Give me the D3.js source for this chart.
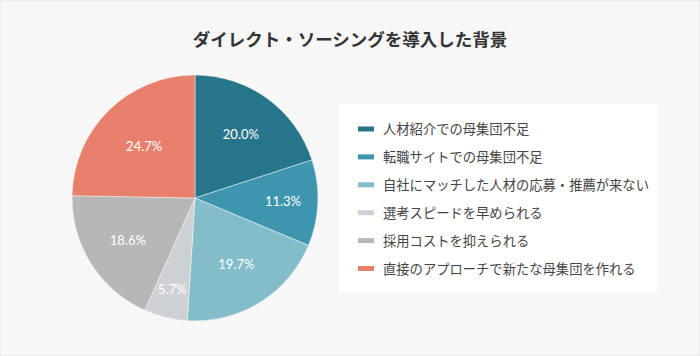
<!DOCTYPE html>
<html><head><meta charset="utf-8">
<script src="https://cdn.jsdelivr.net/npm/d3@7"></script>
<style>
html,body{margin:0;padding:0;background:#f7f7f7;}
svg{display:block;}
</style></head>
<body><svg id="c" width="700" height="356"></svg>
<script>
const categories = ["人材紹介での母集団不足","転職サイトでの母集団不足","自社にマッチした人材の応募・推薦が来ない","選考スピードを早められる","採用コストを抑えられる","直接のアプローチで新たな母集団を作れる"];
const values = [20.0, 11.3, 19.7, 5.7, 18.6, 24.7];
const colors = ["#27758a","#3d96ae","#82bdc9","#cdd1d5","#b7b7b7","#e9806c"];
const title = "ダイレクト・ソーシングを導入した背景";

const svg = d3.select("#c");
svg.append("rect").attr("x",0.5).attr("y",0.5).attr("width",699).attr("height",355).attr("fill","#f7f7f7").attr("stroke","#ececec");
svg.append("text").attr("x",350).attr("y",46).attr("text-anchor","middle")
  .attr("font-family","'Noto Sans CJK JP'").attr("font-weight","bold").attr("font-size",17.5).attr("fill","#333").text(title);

const cx=195, cy=198, R=123;
const data = categories.map((c,i)=>({c, v:values[i], col:colors[i]}));
const pie = d3.pie().value(d=>d.v).sort(null);
const arc = d3.arc().innerRadius(0).outerRadius(R);
const total = d3.sum(values);
// label distance shrinks slightly for larger slices
const labelPos = d => {
  const f = d.data.v / total;
  const r = 101 - 115 * f;
  return d3.arc().innerRadius(r).outerRadius(r).centroid(d);
};
const g = svg.append("g").attr("transform",`translate(${cx},${cy})`);
const arcs = pie(data);
g.selectAll("path").data(arcs).join("path").attr("d",arc).attr("fill",d=>d.data.col)
  .attr("stroke","#f7f7f7").attr("stroke-width",0.5);
g.selectAll("text").data(arcs).join("text")
  .attr("transform",d=>`translate(${labelPos(d)})`)
  .attr("text-anchor","middle").attr("dy","0.35em")
  .attr("font-family","Lato").attr("font-size",13).attr("fill","#fff")
  .text(d=>d.data.v.toFixed(1)+"%");

// legend
svg.append("rect").attr("x",339).attr("y",104).attr("width",318).attr("height",189).attr("fill","#fff");
const leg = svg.append("g");
const rowY = d3.scalePoint().domain(categories).range([129.5,269]);
categories.forEach((c,i)=>{
  leg.append("rect").attr("x",358).attr("y",rowY(c)-3).attr("width",16).attr("height",5).attr("fill",colors[i]);
  leg.append("text").attr("x",383).attr("y",rowY(c)).attr("dy","0.35em")
    .attr("font-family","'Noto Sans CJK JP'").attr("font-size",13.3).attr("fill","#444").text(c);
});
</script></body></html>
